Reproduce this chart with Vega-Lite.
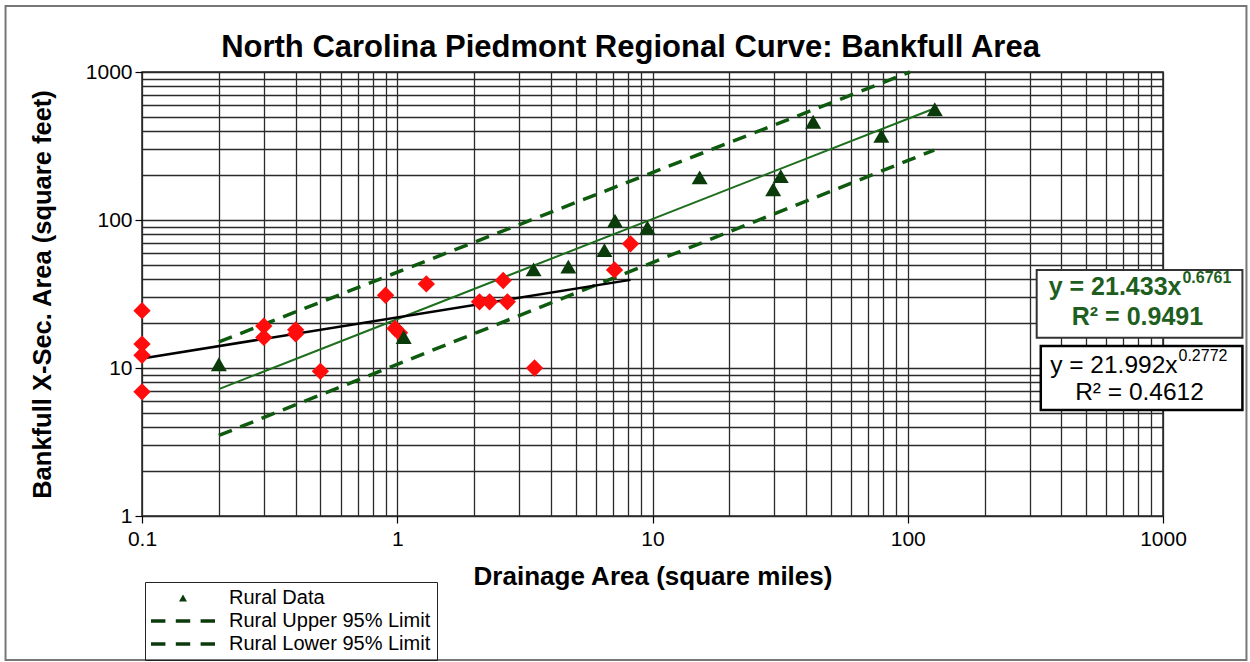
{
  "$schema": "https://vega.github.io/schema/vega-lite/v6.json",
  "width": 1021,
  "height": 444,
  "autosize": {"type": "none"},
  "padding": {"left": 142, "top": 72, "right": 87, "bottom": 146},
  "background": "white",
  "title": {"text": "North Carolina Piedmont Regional Curve: Bankfull Area", "font": "Liberation Sans", "fontSize": 31, "fontWeight": "bold", "color": "black", "anchor": "middle", "dx": -22, "offset": -59},
  "config": {
    "view": {"stroke": "#222", "strokeWidth": 1.5},
    "axis": {"labelFont": "Liberation Sans", "titleFont": "Liberation Sans", "labelColor": "black", "titleColor": "black", "gridColor": "#2a2a2a", "gridWidth": 1.3, "gridOpacity": 1, "domain": false, "tickColor": "black", "tickWidth": 1.2, "tickSize": 7, "labelOverlap": false, "labelBound": false, "labelFlush": false}
  },
  "datasets": {
    "urban": [
      {"area": 0.1, "xsec": 24.4}, {"area": 0.1, "xsec": 14.5}, {"area": 0.1, "xsec": 12.2}, {"area": 0.1, "xsec": 6.9},
      {"area": 0.3, "xsec": 19.2}, {"area": 0.3, "xsec": 16.1}, {"area": 0.4, "xsec": 18.1}, {"area": 0.4, "xsec": 17.0},
      {"area": 0.5, "xsec": 9.5}, {"area": 0.9, "xsec": 31.0}, {"area": 0.98, "xsec": 18.5}, {"area": 1.02, "xsec": 17.3},
      {"area": 1.3, "xsec": 37.0}, {"area": 2.1, "xsec": 28.0}, {"area": 2.3, "xsec": 28.0}, {"area": 2.6, "xsec": 39.0},
      {"area": 2.7, "xsec": 28.0}, {"area": 3.45, "xsec": 10.0}, {"area": 7.1, "xsec": 46.0}, {"area": 8.2, "xsec": 69.0}
    ],
    "rural": [
      {"series": "Rural Data", "area": 0.2, "xsec": 10.6}, {"series": "Rural Data", "area": 1.06, "xsec": 16.2},
      {"series": "Rural Data", "area": 3.42, "xsec": 46.4}, {"series": "Rural Data", "area": 4.68, "xsec": 48.4},
      {"series": "Rural Data", "area": 6.48, "xsec": 62.6}, {"series": "Rural Data", "area": 7.13, "xsec": 98.9},
      {"series": "Rural Data", "area": 9.55, "xsec": 89.0}, {"series": "Rural Data", "area": 15.3, "xsec": 194},
      {"series": "Rural Data", "area": 29.7, "xsec": 161}, {"series": "Rural Data", "area": 31.8, "xsec": 198},
      {"series": "Rural Data", "area": 42.6, "xsec": 461}, {"series": "Rural Data", "area": 78.8, "xsec": 370},
      {"series": "Rural Data", "area": 127.6, "xsec": 560}
    ],
    "ruralFit": [{"area": 0.2, "xsec": 7.2}, {"area": 127, "xsec": 567}],
    "urbanFit": [{"area": 0.1, "xsec": 11.6}, {"area": 8.2, "xsec": 39.4}],
    "limits": [
      {"line": "Rural Upper 95% Limit", "area": 0.2, "xsec": 15.0}, {"line": "Rural Upper 95% Limit", "area": 102, "xsec": 1000},
      {"line": "Rural Lower 95% Limit", "area": 0.2, "xsec": 3.5}, {"line": "Rural Lower 95% Limit", "area": 127, "xsec": 297}
    ],
    "frame": [{"item": "chart frame"}],
    "eqRural": [{"eq": "y = 21.433x", "sup": "0.6761", "r2": "R² = 0.9491"}],
    "eqUrban": [{"eq": "y = 21.992x", "sup": "0.2772", "r2": "R² = 0.4612"}]
  },
  "layer": [
    {
      "encoding": {
        "x": {"field": "area", "type": "quantitative",
          "scale": {"type": "log", "domain": [0.1, 1000], "nice": false},
          "axis": {"title": "Drainage Area (square miles)", "titleFontSize": 26, "titleFontWeight": "bold", "titlePadding": 14, "labelFontSize": 21, "labelPadding": 5,
            "values": [0.1,0.2,0.3,0.4,0.5,0.6,0.7,0.8,0.9,1,2,3,4,5,6,7,8,9,10,20,30,40,50,60,70,80,90,100,200,300,400,500,600,700,800,900,1000],
            "labelExpr": "indexof([0.1,1,10,100,1000], datum.value) >= 0 ? format(datum.value, '~g') : ''",
            "tickOpacity": {"condition": {"test": "indexof([0.1,1,10,100,1000], datum.value) >= 0", "value": 1}, "value": 0}}},
        "y": {"field": "xsec", "type": "quantitative",
          "scale": {"type": "log", "domain": [1, 1000], "nice": false},
          "axis": {"title": "Bankfull X-Sec. Area (square feet)", "titleFontSize": 25.5, "titleFontWeight": "bold", "titlePadding": 30, "labelFontSize": 21, "labelPadding": 3,
            "values": [1,2,3,4,5,6,7,8,9,10,20,30,40,50,60,70,80,90,100,200,300,400,500,600,700,800,900,1000],
            "labelExpr": "indexof([1,10,100,1000], datum.value) >= 0 ? format(datum.value, '~g') : ''",
            "tickOpacity": {"condition": {"test": "indexof([1,10,100,1000], datum.value) >= 0", "value": 1}, "value": 0}}}
      },
      "layer": [
        {"data": {"name": "limits"}, "mark": {"type": "line", "color": "#0e5a0e", "strokeWidth": 3.5, "strokeDash": [14, 9]},
          "encoding": {"detail": {"field": "line"}}},
        {"data": {"name": "ruralFit"}, "mark": {"type": "line", "color": "#1d6e1d", "strokeWidth": 2}, "encoding": {}},
        {"data": {"name": "urbanFit"}, "mark": {"type": "line", "color": "black", "strokeWidth": 2.5}, "encoding": {}},
        {"data": {"name": "urban"}, "mark": {"type": "point", "shape": "diamond", "filled": true, "color": "#ff0d0d", "size": 300, "opacity": 1}},
        {"data": {"name": "rural"}, "mark": {"type": "point", "filled": true, "color": "#0b3b0b", "size": 256, "opacity": 1},
          "encoding": {"shape": {"field": "series", "type": "nominal",
            "scale": {"domain": ["Rural Data", "Rural Upper 95% Limit", "Rural Lower 95% Limit"],
              "range": ["M0,-0.866L-1,0.866L1,0.866Z", "M-8,-0.45H-4.4V0.45H-8Z M-1.8,-0.45H1.8V0.45H-1.8Z M4.4,-0.45H8V0.45H4.4Z", "M-8,-0.45H-4.4V0.45H-8Z M-1.8,-0.45H1.8V0.45H-1.8Z M4.4,-0.45H8V0.45H4.4Z"]},
            "legend": {"title": null, "orient": "none", "legendX": 3, "legendY": 510, "strokeColor": "#222", "padding": 6,
              "labelFont": "Liberation Sans", "labelFontSize": 20, "labelColor": "black", "labelLimit": 400, "symbolSize": 64, "symbolOffset": 22, "labelOffset": 36, "rowPadding": 3,
              "symbolFillColor": "black", "symbolOpacity": 1}}}}
      ]
    },
    {"data": {"name": "frame"}, "mark": {"type": "rect", "filled": false, "stroke": "#777", "strokeWidth": 2, "clip": false},
      "encoding": {"x": {"datum": 0.0292, "type": "quantitative", "scale": {"type": "log", "domain": [0.1, 1000], "nice": false}},
        "x2": {"datum": 2123}, "y": {"datum": 2793, "type": "quantitative", "scale": {"type": "log", "domain": [1, 1000], "nice": false}}, "y2": {"datum": 0.1065}}},
    {"data": {"name": "eqRural"},
      "encoding": {"y": {"datum": 31.1, "type": "quantitative", "scale": {"type": "log", "domain": [1, 1000], "nice": false}}},
      "layer": [
        {"mark": {"type": "rect", "fill": "white", "stroke": "#333", "strokeWidth": 2, "clip": false},
          "encoding": {"x": {"datum": 320, "type": "quantitative", "scale": {"type": "log", "domain": [0.1, 1000], "nice": false}}, "x2": {"datum": 2047}, "y": {"datum": 45.9, "type": "quantitative", "scale": {"type": "log", "domain": [1, 1000], "nice": false}}, "y2": {"datum": 16.0}}},
        {"mark": {"type": "text", "align": "right", "baseline": "alphabetic", "font": "Liberation Sans", "fontSize": 25, "fontWeight": "bold", "color": "#1e5e1e"},
          "encoding": {"x": {"datum": 1181, "type": "quantitative", "scale": {"type": "log", "domain": [0.1, 1000], "nice": false}}, "text": {"field": "eq"}}},
        {"mark": {"type": "text", "align": "left", "baseline": "alphabetic", "dx": 1, "dy": -12, "font": "Liberation Sans", "fontSize": 16, "fontWeight": "bold", "color": "#1e5e1e"},
          "encoding": {"x": {"datum": 1181, "type": "quantitative", "scale": {"type": "log", "domain": [0.1, 1000], "nice": false}}, "text": {"field": "sup"}}},
        {"mark": {"type": "text", "align": "center", "baseline": "alphabetic", "font": "Liberation Sans", "fontSize": 25, "fontWeight": "bold", "color": "#1e5e1e"},
          "encoding": {"x": {"datum": 794, "type": "quantitative", "scale": {"type": "log", "domain": [0.1, 1000], "nice": false}}, "y": {"datum": 19.5, "type": "quantitative", "scale": {"type": "log", "domain": [1, 1000], "nice": false}}, "text": {"field": "r2"}}}
      ]
    },
    {"data": {"name": "eqUrban"},
      "encoding": {"y": {"datum": 9.25, "type": "quantitative", "scale": {"type": "log", "domain": [1, 1000], "nice": false}}},
      "layer": [
        {"mark": {"type": "rect", "fill": "white", "stroke": "black", "strokeWidth": 2.5, "clip": false},
          "encoding": {"x": {"datum": 332, "type": "quantitative", "scale": {"type": "log", "domain": [0.1, 1000], "nice": false}}, "x2": {"datum": 2047}, "y": {"datum": 14.1, "type": "quantitative", "scale": {"type": "log", "domain": [1, 1000], "nice": false}}, "y2": {"datum": 5.2}}},
        {"mark": {"type": "text", "align": "right", "baseline": "alphabetic", "font": "Liberation Sans", "fontSize": 24.5, "color": "black"},
          "encoding": {"x": {"datum": 1140, "type": "quantitative", "scale": {"type": "log", "domain": [0.1, 1000], "nice": false}}, "text": {"field": "eq"}}},
        {"mark": {"type": "text", "align": "left", "baseline": "alphabetic", "dx": 1, "dy": -12, "font": "Liberation Sans", "fontSize": 16, "color": "black"},
          "encoding": {"x": {"datum": 1140, "type": "quantitative", "scale": {"type": "log", "domain": [0.1, 1000], "nice": false}}, "text": {"field": "sup"}}},
        {"mark": {"type": "text", "align": "center", "baseline": "alphabetic", "font": "Liberation Sans", "fontSize": 24.5, "color": "black"},
          "encoding": {"x": {"datum": 809, "type": "quantitative", "scale": {"type": "log", "domain": [0.1, 1000], "nice": false}}, "y": {"datum": 6.08, "type": "quantitative", "scale": {"type": "log", "domain": [1, 1000], "nice": false}}, "text": {"field": "r2"}}}
      ]
    }
  ]
}
